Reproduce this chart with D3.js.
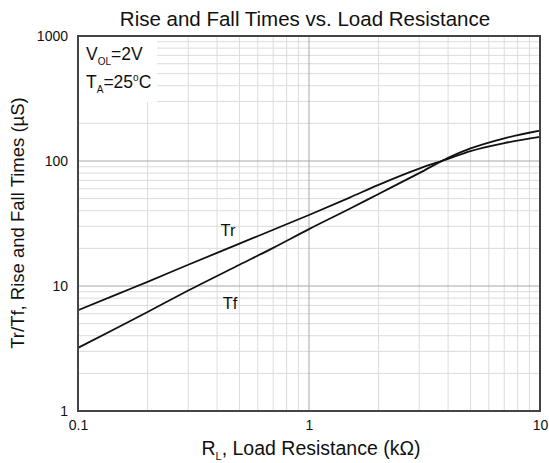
<!DOCTYPE html>
<html><head><meta charset="utf-8">
<script src="https://cdn.jsdelivr.net/npm/d3@7"></script>
<style>body{margin:0;background:#fff}svg{display:block}text{font-family:"Liberation Sans",Arial,sans-serif;fill:#111}</style>
</head><body><svg id="c" width="549" height="463"></svg>
<script>
const resistance = [0.1,0.15,0.2,0.3,0.5,0.7,1,1.5,2,3,4,5,7,10];
const riseTime = [6.4,8.7,10.8,14.8,21.8,28.2,37,51,64.5,87,104,120,139,156];
const fallTime = [3.2,4.7,6.2,9.2,14.8,20.2,28.5,41.5,54.5,80,106,126,152,175];
const xTickLabels = ["0.1","1","10"];
const yTickLabels = ["1","10","100","1000"];

const m = {l:78, r:540, t:36, b:411};
const svg = d3.select("#c");
const x = d3.scaleLog().domain([0.1,10]).range([m.l,m.r]);
const y = d3.scaleLog().domain([1,1000]).range([m.b,m.t]);

// minor grid
const minorX = [], minorY = [];
[0.1,1].forEach(d=>{for(let k=2;k<=9;k++) minorX.push(d*k);});
[1,10,100].forEach(d=>{for(let k=2;k<=9;k++) minorY.push(d*k);});
const g = svg.append("g");
g.selectAll(".mx").data(minorX).enter().append("line")
 .attr("x1",d=>x(d)).attr("x2",d=>x(d)).attr("y1",m.t).attr("y2",m.b)
 .attr("stroke","#dcdcdc").attr("stroke-width",1);
g.selectAll(".my").data(minorY).enter().append("line")
 .attr("x1",m.l).attr("x2",m.r).attr("y1",d=>y(d)).attr("y2",d=>y(d))
 .attr("stroke","#dcdcdc").attr("stroke-width",1);
g.selectAll(".Mx").data([1]).enter().append("line")
 .attr("x1",d=>x(d)).attr("x2",d=>x(d)).attr("y1",m.t).attr("y2",m.b)
 .attr("stroke","#a8a8a8").attr("stroke-width",1);
g.selectAll(".My").data([10,100]).enter().append("line")
 .attr("x1",m.l).attr("x2",m.r).attr("y1",d=>y(d)).attr("y2",d=>y(d))
 .attr("stroke","#a8a8a8").attr("stroke-width",1);

// annotation box covering grid
svg.append("rect").attr("x",m.l).attr("y",m.t).attr("width",79).attr("height",66).attr("fill","#fff");

// curves
const line = d3.line().x(d=>x(d[0])).y(d=>y(d[1])).curve(d3.curveMonotoneX);
[riseTime,fallTime].forEach(s=>{
  svg.append("path").datum(resistance.map((r,i)=>[r,s[i]]))
   .attr("d",line).attr("fill","none").attr("stroke","#111").attr("stroke-width",1.8);
});

// frame
svg.append("rect").attr("x",m.l).attr("y",m.t).attr("width",m.r-m.l).attr("height",m.b-m.t)
 .attr("fill","none").attr("stroke","#444").attr("stroke-width",2);

// axes tick labels
const xAxis = d3.axisBottom(x).tickValues([0.1,1,10]).tickFormat((d,i)=>xTickLabels[i]).tickSize(0).tickPadding(9);
const ax = svg.append("g").attr("transform",`translate(0,${m.b})`).call(xAxis);
ax.select(".domain").remove();
ax.selectAll("text").attr("font-size",14).style("font-family","Liberation Sans, Arial, sans-serif").attr("fill","#111");
const yAxis = d3.axisLeft(y).tickValues([1,10,100,1000]).tickFormat((d,i)=>yTickLabels[i]).tickSize(0).tickPadding(10);
const ay = svg.append("g").attr("transform",`translate(${m.l},0)`).call(yAxis);
ay.select(".domain").remove();
ay.selectAll("text").attr("font-size",14).style("font-family","Liberation Sans, Arial, sans-serif").attr("fill","#111");

// title
svg.append("text").attr("x",305).attr("y",26).attr("text-anchor","middle").attr("font-size",20.5)
 .text("Rise and Fall Times vs. Load Resistance");

// x label
const xl = svg.append("text").attr("x",311).attr("y",455).attr("text-anchor","middle").attr("font-size",19.5);
xl.append("tspan").text("R");
xl.append("tspan").attr("font-size",11).attr("dy",5).text("L");
xl.append("tspan").attr("dy",-5).text(", Load Resistance (kΩ)");

// y label
svg.append("text").attr("transform","translate(24,223) rotate(-90)").attr("text-anchor","middle").attr("font-size",18.5)
 .text("Tr/Tf, Rise and Fall Times (µS)");

// annotations
const a1 = svg.append("text").attr("x",86).attr("y",60).attr("font-size",17.5);
a1.append("tspan").text("V");
a1.append("tspan").attr("font-size",10).attr("dy",5).text("OL");
a1.append("tspan").attr("dy",-5).text("=2V");
const a2 = svg.append("text").attr("x",86).attr("y",88).attr("font-size",17.5);
a2.append("tspan").text("T");
a2.append("tspan").attr("font-size",10).attr("dy",5).text("A");
a2.append("tspan").attr("dy",-5).text("=25");
a2.append("tspan").attr("font-size",10).attr("dy",-7).text("o");
a2.append("tspan").attr("dy",7).text("C");

// series labels
svg.append("text").attr("x",228).attr("y",236).attr("text-anchor","middle").attr("font-size",16.5).text("Tr");
svg.append("text").attr("x",230).attr("y",309).attr("text-anchor","middle").attr("font-size",16.5).text("Tf");
</script></body></html>
